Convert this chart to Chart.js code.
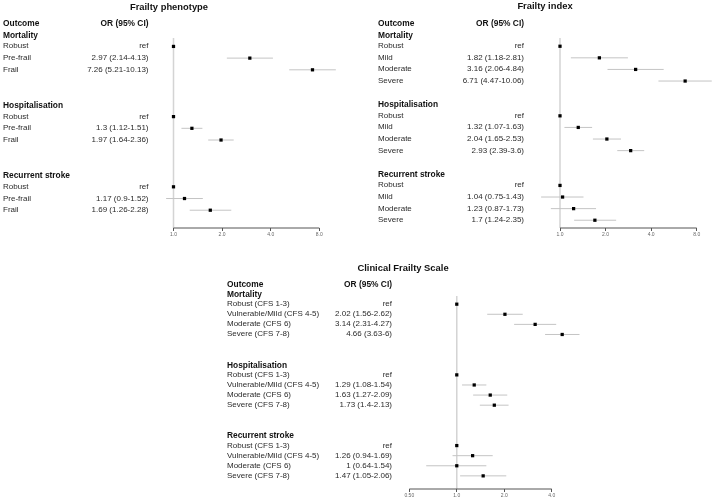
<!DOCTYPE html>
<html>
<head>
<meta charset="utf-8">
<script src="https://cdn.jsdelivr.net/npm/chart.js@4.4.1/dist/chart.umd.min.js"></script>
<style>
  body { margin: 0; background: #fff; }
  #page { position: relative; width: 714px; height: 501px; overflow: hidden;
          font-family: "Liberation Sans", Arial, sans-serif; color: #2a2a2a; }
  canvas { position: absolute; }
  .t { position: absolute; white-space: nowrap; font-size: 8px; line-height: 1; }
  .b { font-weight: bold; font-size: 8.4px; color: #111; }
  .title { font-weight: bold; font-size: 9.4px; color: #111; }
</style>
</head>
<body>
<div id="page">
  <canvas id="fp" width="357" height="250" style="left:0;top:0"></canvas>
  <canvas id="fi" width="357" height="250" style="left:357px;top:0"></canvas>
  <canvas id="cfs" width="494" height="246" style="left:220px;top:255px"></canvas>
</div>
<script>
// outcome blocks, shared by all three panels
const outcomes = ['Mortality', 'Hospitalisation', 'Recurrent stroke'];

// Frailty phenotype
const fpGroups = ['Robust', 'Pre-frail', 'Frail'];
const fpOR   = [[1, 2.97, 7.26], [1, 1.3, 1.97], [1, 1.17, 1.69]];
const fpLow  = [[null, 2.14, 5.21], [null, 1.12, 1.64], [null, 0.9, 1.26]];
const fpHigh = [[null, 4.13, 10.13], [null, 1.51, 2.36], [null, 1.52, 2.28]];
const fpTicks = [1, 2, 4, 8];
const fpTickLabels = ['1.0', '2.0', '4.0', '8.0'];

// Frailty index
const fiGroups = ['Robust', 'Mild', 'Moderate', 'Severe'];
const fiOR   = [[1, 1.82, 3.16, 6.71], [1, 1.32, 2.04, 2.93], [1, 1.04, 1.23, 1.7]];
const fiLow  = [[null, 1.18, 2.06, 4.47], [null, 1.07, 1.65, 2.39], [null, 0.75, 0.87, 1.24]];
const fiHigh = [[null, 2.81, 4.84, 10.06], [null, 1.63, 2.53, 3.6], [null, 1.43, 1.73, 2.35]];
const fiTicks = [1, 2, 4, 8];
const fiTickLabels = ['1.0', '2.0', '4.0', '8.0'];

// Clinical Frailty Scale
const cfsGroups = ['Robust (CFS 1-3)', 'Vulnerable/Mild (CFS 4-5)', 'Moderate (CFS 6)', 'Severe (CFS 7-8)'];
const cfsOR   = [[1, 2.02, 3.14, 4.66], [1, 1.29, 1.63, 1.73], [1, 1.26, 1, 1.47]];
const cfsLow  = [[null, 1.56, 2.31, 3.63], [null, 1.08, 1.27, 1.4], [null, 0.94, 0.64, 1.05]];
const cfsHigh = [[null, 2.62, 4.27, 6], [null, 1.54, 2.09, 2.13], [null, 1.69, 1.54, 2.06]];
const cfsTicks = [0.5, 1, 2, 4];
const cfsTickLabels = ['0.50', '1.0', '2.0', '4.0'];

const page = document.getElementById('page');
const axisColor = '#555';

function addText(str, x, y, cls, align) {
  const el = document.createElement('div');
  el.className = 't ' + (cls || '');
  el.textContent = str;
  el.style.left = x + 'px';
  el.style.top = y + 'px';
  let tx = '0';
  if (align === 'right') tx = '-100%';
  if (align === 'center') tx = '-50%';
  el.style.transform = 'translate(' + tx + ', -50%)';
  page.appendChild(el);
}

function orText(or, lo, hi) {
  return lo == null ? 'ref' : `${or} (${lo}-${hi})`;
}

function drawPanel(p) {
  const points = [];
  const cis = [];
  const rows = [];
  outcomes.forEach((name, k) => {
    const head = 1 + k * p.stride;
    rows.push({ row: head, label: name, bold: true });
    p.groups.forEach((g, i) => {
      const r = head + 1 + i;
      const lo = p.low[k][i];
      rows.push({ row: r, label: g, text: orText(p.or[k][i], lo, p.high[k][i]) });
      points.push({ x: p.or[k][i], y: r });
      if (lo != null) {
        cis.push({
          data: [{ x: lo, y: r }, { x: p.high[k][i], y: r }],
          showLine: true, borderColor: '#c4c4c4', borderWidth: 1,
          pointRadius: 0, clip: false, order: 2
        });
      }
    });
  });

  const first = p.ticks[0];
  const last = p.ticks[p.ticks.length - 1];
  const datasets = [
    { data: points, pointStyle: 'rect', pointRadius: 2.3, backgroundColor: '#000',
      borderColor: '#000', borderWidth: 0, clip: false, order: 1 },
    ...cis,
    // reference line at OR = 1
    { data: [{ x: 1, y: p.yMin }, { x: 1, y: p.yMax }], showLine: true,
      borderColor: '#d4d4d4', borderWidth: 1.5, pointRadius: 0, clip: false, order: 3 },
    // x axis line, only over the tick range
    { data: [{ x: first, y: p.yMax }, { x: last, y: p.yMax }], showLine: true,
      borderColor: axisColor, borderWidth: 1, pointRadius: 0, clip: false, order: 0 }
  ];

  const canvas = document.getElementById(p.id);
  const chart = new Chart(canvas, {
    type: 'scatter',
    data: { datasets: datasets },
    options: {
      responsive: false,
      animation: false,
      events: [],
      layout: { padding: p.pad },
      plugins: { legend: { display: false }, tooltip: { enabled: false } },
      scales: {
        x: {
          type: 'logarithmic',
          min: first,
          max: p.xMax,
          afterBuildTicks: (s) => { s.ticks = p.ticks.map(v => ({ value: v })); },
          afterFit: (s) => { s.height = 12; },
          grid: { display: true, drawOnChartArea: false, drawTicks: true, tickLength: 3, color: axisColor },
          border: { display: false },
          ticks: {
            autoSkip: false, maxRotation: 0, minRotation: 0, padding: 1,
            color: '#666', font: { size: 5, family: '"Liberation Sans", Arial' },
            callback: (v, i) => p.tickLabels[i]
          }
        },
        y: { type: 'linear', reverse: true, min: p.yMin, max: p.yMax, display: false }
      }
    }
  });

  const top = p.top;
  const yAt = (r) => top + chart.scales.y.getPixelForValue(r);
  addText(p.title, p.titleX, p.titleY, 'title', 'center');
  addText('Outcome', p.labelX, yAt(0), 'b');
  addText('OR (95% CI)', p.orX, yAt(0), 'b', 'right');
  rows.forEach(r => {
    addText(r.label, p.labelX, yAt(r.row), r.bold ? 'b' : '');
    if (r.text) addText(r.text, p.orX, yAt(r.row), '', 'right');
  });
}

drawPanel({
  id: 'fp', title: 'Frailty phenotype', titleX: 169, titleY: 7, top: 0,
  labelX: 3, orX: 148.5, stride: 6,
  groups: fpGroups, or: fpOR, low: fpLow, high: fpHigh,
  ticks: fpTicks, tickLabels: fpTickLabels, xMax: 8,
  yMin: 1.28, yMax: 17.52,
  pad: { left: 173.5, right: 357 - 319.3, top: 38, bottom: 10 }
});

drawPanel({
  id: 'fi', title: 'Frailty index', titleX: 545, titleY: 6, top: 0,
  labelX: 378, orX: 524, stride: 6,
  groups: fiGroups, or: fiOR, low: fiLow, high: fiHigh,
  ticks: fiTicks, tickLabels: fiTickLabels, xMax: 8,
  yMin: 1.29, yMax: 17.67,
  pad: { left: 560 - 357, right: 714 - 696.7, top: 38, bottom: 10 }
});

// plot area runs to OR = 8 so the Severe point beyond the last tick is still drawn
drawPanel({
  id: 'cfs', title: 'Clinical Frailty Scale', titleX: 403, titleY: 268, top: 255,
  labelX: 227, orX: 392, stride: 7,
  groups: cfsGroups, or: cfsOR, low: cfsLow, high: cfsHigh,
  ticks: cfsTicks, tickLabels: cfsTickLabels, xMax: 8,
  yMin: 1.19, yMax: 20.3,
  pad: { left: 409.3 - 220, right: 714 - 599.2, top: 41, bottom: 0 }
});
</script>
</body>
</html>
